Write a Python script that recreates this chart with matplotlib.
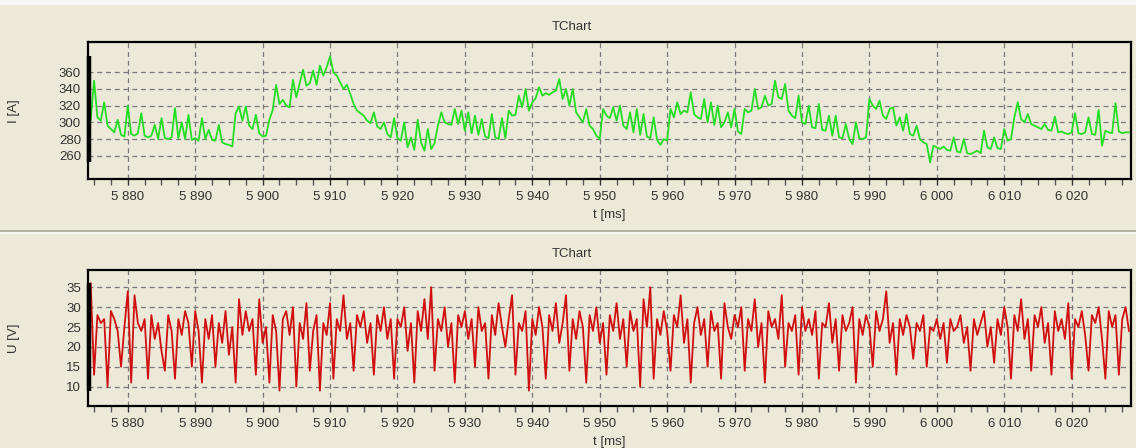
import numpy as np
import matplotlib
matplotlib.use("Agg")
import matplotlib.pyplot as plt
from matplotlib.ticker import MultipleLocator, FuncFormatter, FixedLocator
from matplotlib.lines import Line2D
from matplotlib.patches import Rectangle
import matplotlib.transforms as mtrans

# ---------------- data ----------------
t_start = 5874.5   # ms
t_step = 0.5       # ms

current_I = [
    303, 350, 306, 302, 324, 296, 292, 288, 303, 285,
    283, 320, 286, 284, 287, 311, 284, 282, 284, 297,
    280, 305, 281, 280, 282, 317, 281, 300, 280, 309,
    279, 281, 278, 305, 280, 291, 279, 278, 297, 276,
    274, 273, 271, 311, 319, 302, 319, 296, 292, 309,
    287, 283, 284, 303, 315, 345, 322, 327, 320, 318,
    351, 330, 347, 363, 344, 347, 362, 345, 368, 356,
    366, 379, 360, 356, 348, 340, 345, 334, 322, 314,
    311, 308, 302, 299, 312, 295, 292, 300, 286, 282,
    305, 281, 278, 300, 270, 282, 267, 303, 276, 266,
    292, 268, 275, 296, 312, 300, 298, 297, 316, 298,
    314, 290, 312, 287, 308, 285, 304, 283, 281, 310,
    282, 280, 305, 281, 314, 308, 309, 332, 318, 340,
    314, 324, 329, 342, 332, 335, 333, 336, 338, 352,
    328, 340, 320, 340, 312, 306, 300, 316, 296, 292,
    284, 280, 316, 308, 305, 318, 302, 320, 296, 292,
    312, 288, 316, 285, 310, 283, 281, 306, 279, 273,
    280, 278, 316, 306, 324, 310, 314, 312, 336, 310,
    306, 304, 328, 300, 324, 297, 320, 294, 300, 312,
    294, 316, 289, 286, 316, 312, 314, 340, 316, 318,
    332, 320, 322, 350, 330, 328, 346, 314, 308, 305,
    332, 300, 298, 320, 294, 293, 322, 291, 290, 308,
    284, 308, 282, 281, 298, 280, 274, 300, 281, 280,
    282, 328, 320, 316, 326, 308, 304, 316, 318, 296,
    306, 290, 310, 286, 284, 296, 280, 276, 274, 252,
    272, 270, 268, 271, 267, 266, 282, 265, 264, 280,
    263, 262, 264, 266, 263, 290, 270, 268, 282, 269,
    268, 292, 278, 280, 306, 324, 304, 300, 310, 298,
    296, 294, 292, 298, 291, 290, 307, 288, 289, 287,
    286, 288, 311, 287, 286, 288, 306, 286, 285, 315,
    272, 290, 288, 287, 323, 289, 287, 288, 288,
]

voltage_U = [
    36, 13, 28, 26, 27, 10, 29, 27, 24, 15,
    25, 34, 11, 33, 26, 24, 27, 12, 28, 22,
    26, 19, 14, 28, 24, 12, 27, 23, 29, 26,
    15, 29, 24, 11, 27, 22, 28, 15, 26, 21,
    29, 18, 25, 11, 32, 23, 29, 24, 27, 13,
    32, 21, 25, 11, 28, 24, 9, 27, 29, 23,
    30, 10, 26, 22, 31, 14, 24, 28, 9, 26,
    23, 31, 12, 27, 24, 33, 22, 26, 14, 28,
    25, 29, 21, 26, 13, 28, 24, 30, 22, 27,
    12, 27, 25, 30, 19, 26, 11, 29, 24, 32,
    22, 35, 14, 27, 24, 30, 20, 26, 11, 28,
    25, 29, 22, 27, 15, 30, 24, 26, 12, 28,
    23, 31, 25, 20, 27, 33, 13, 26, 24, 29,
    9, 27, 23, 30, 25, 12, 28, 24, 31, 21,
    26, 33, 14, 27, 22, 29, 25, 11, 28, 24,
    30, 21, 26, 13, 28, 24, 31, 22, 27, 15,
    29, 24, 27, 10, 32, 25, 35, 12, 27, 23,
    29, 24, 14, 28, 25, 33, 21, 27, 11, 26,
    30, 23, 27, 15, 29, 24, 26, 12, 31, 25,
    22, 28, 25, 30, 14, 27, 24, 32, 20, 26,
    11, 29, 25, 27, 22, 33, 15, 26, 24, 28,
    13, 30, 24, 27, 23, 29, 12, 26, 25, 31,
    21, 27, 14, 28, 24, 26, 30, 11, 27, 23,
    28, 25, 15, 29, 24, 27, 34, 21, 26, 13,
    27, 23, 28, 25, 17, 26, 24, 28, 15, 25,
    24, 27, 22, 26, 16, 27, 24, 25, 28, 21,
    25, 14, 27, 23, 26, 29, 20, 25, 16, 27,
    23, 30, 25, 12, 28, 24, 32, 22, 27, 14,
    28, 25, 30, 21, 26, 13, 29, 24, 27, 22,
    31, 12, 27, 25, 29, 23, 14, 28, 26, 30,
    22, 12, 29, 25, 28, 13, 27, 30, 24,
]

x_ticks = [5880, 5890, 5900, 5910, 5920, 5930, 5940, 5950, 5960, 5970,
           5980, 5990, 6000, 6010, 6020]
I_ticks = [260, 280, 300, 320, 340, 360]
U_ticks = [10, 15, 20, 25, 30, 35]
title_text = "TChart"
x_label = "t [ms]"
I_label = "I [A]"
U_label = "U [V]"

t = t_start + t_step * np.arange(len(current_I))

# ---------------- style ----------------
W, H = 1136, 448
BG = "#ECE9D8"
TXT = "#333333"
plt.rcParams["font.family"] = ["Liberation Sans", "DejaVu Sans"]
plt.rcParams["font.size"] = 9.5

fig = plt.figure(figsize=(W / 100, H / 100), dpi=100, facecolor=BG)

# top white strip and separator
fig.add_artist(Rectangle((0, 1 - 5 / H), 1, 5 / H, transform=fig.transFigure,
                         facecolor="#F8F7F3", edgecolor="none"))
fig.add_artist(Line2D([0, 1], [1 - 231 / H] * 2, transform=fig.transFigure,
                      color="#A8A698", lw=1.2))
fig.add_artist(Line2D([0, 1], [1 - 233.5 / H] * 2, transform=fig.transFigure,
                      color="#FBFAF6", lw=1.2))

def px_axes(left, top, right, bottom):
    return fig.add_axes([left / W, 1 - bottom / H, (right - left) / W, (bottom - top) / H])

ax1 = px_axes(88, 42.5, 1131, 179)
ax2 = px_axes(88, 270, 1131, 405.7)

def thousands(v, pos):
    return f"{int(round(v)):,}".replace(",", " ")

def style(ax, yticks, ylim, ylabel, ydata, title_y, label_y):
    ax.set_facecolor(BG)
    ax.set_xlim(5874.1, 6028.8)
    ax.set_ylim(*ylim)
    ax.xaxis.set_major_locator(FixedLocator(x_ticks))
    ax.xaxis.set_minor_locator(MultipleLocator(2.5))
    ax.xaxis.set_major_formatter(FuncFormatter(thousands))
    ax.yaxis.set_major_locator(FixedLocator(yticks))
    ax.grid(True, which="major", color="#7a7a7a", linestyle=(0, (4, 3)), lw=0.9)
    ax.set_axisbelow(True)
    for s in ax.spines.values():
        s.set_color("black")
        s.set_linewidth(1.6)
    ax.tick_params(axis="x", which="major", direction="out", length=4, width=1,
                   color="#333333", labelcolor=TXT, pad=5)
    ax.tick_params(axis="x", which="minor", direction="out", length=4, width=1,
                   color="#555555")
    ax.tick_params(axis="y", which="major", direction="out", length=0,
                   labelcolor=TXT, pad=5)
    ax.set_ylabel(ylabel, color=TXT, labelpad=10)
    ax.yaxis.set_label_coords(-68 / 1043, 0.5)
    trans = mtrans.blended_transform_factory(ax.transAxes, ax.transData)
    ax.plot([0.0012, 0.0012], [min(ydata), max(ydata)], transform=trans,
            color="black", lw=3.2, clip_on=False, solid_capstyle="butt", zorder=5)
    fig.text(572 / W, 1 - title_y / H, title_text, ha="center", va="center",
             color=TXT, fontsize=9.5)
    fig.text(609 / W, 1 - label_y / H, x_label, ha="center", va="center",
             color=TXT, fontsize=9.5)

ax1.plot(t, current_I, color="#26DD26", lw=1.3, zorder=3)
ax2.plot(t, voltage_U, color="#D01010", lw=1.3, zorder=3)

style(ax1, I_ticks, (232.1, 395.7), I_label, current_I, 27, 215)
style(ax2, U_ticks, (5.2, 39.35), U_label, voltage_U, 254, 442)

fig.savefig("out.png", dpi=100, facecolor=BG)
